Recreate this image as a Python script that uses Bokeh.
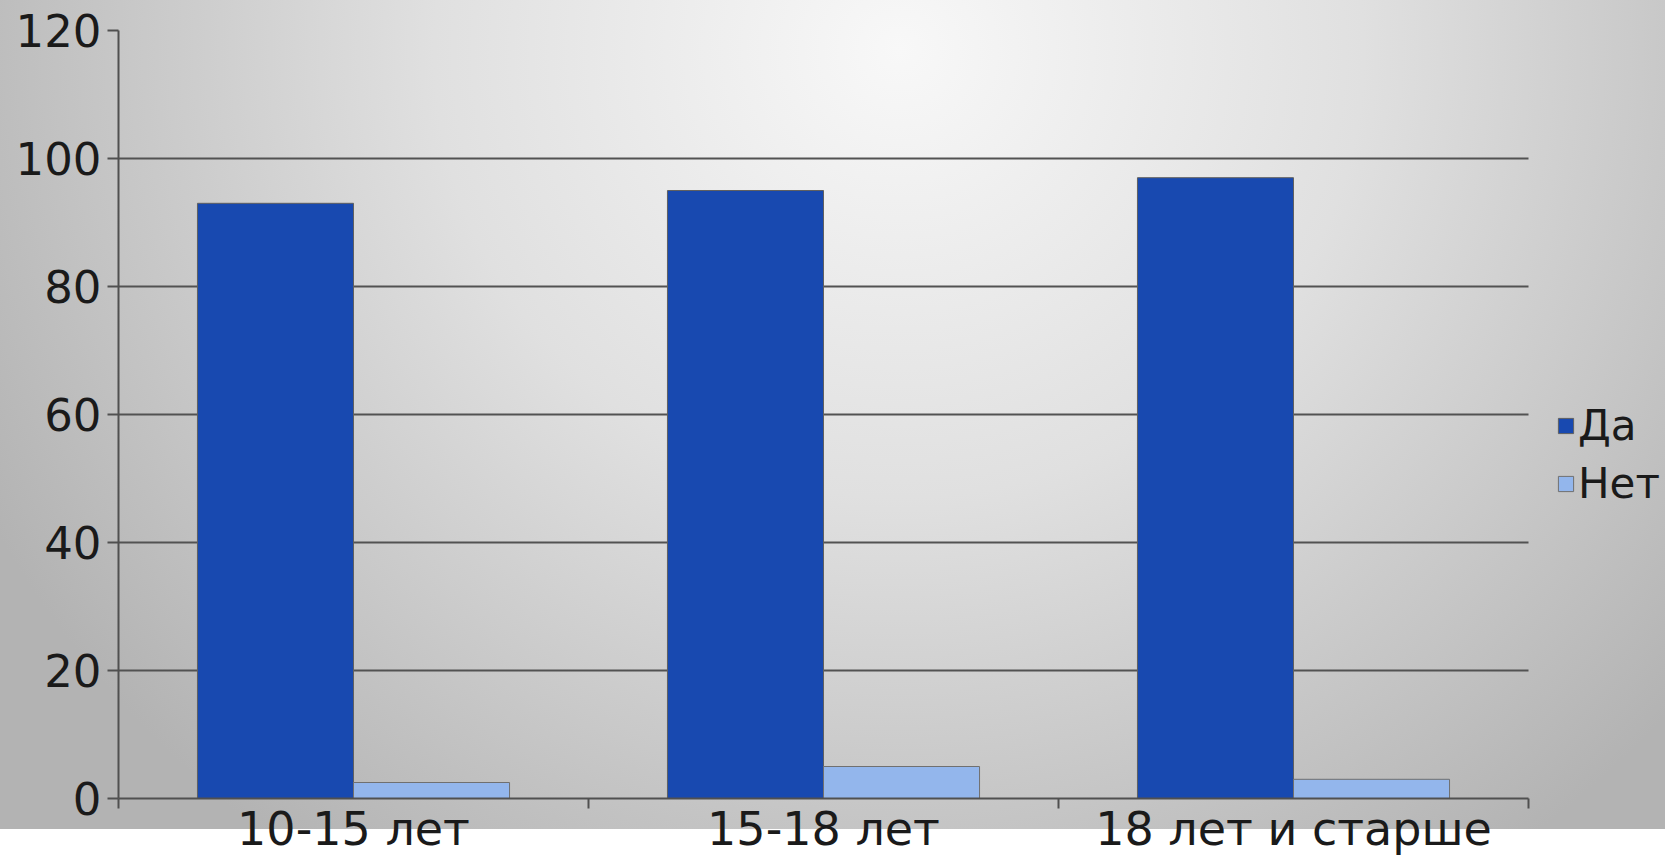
from bokeh.plotting import figure
from bokeh.models import FixedTicker, Legend, LegendItem, ColumnDataSource, Range1d
from bokeh.embed import file_html
from bokeh.resources import INLINE

categories = ["10-15 лет", "15-18 лет", "18 лет и старше"]
series_names = ["Да", "Нет"]
da_values = [93, 95, 97]
net_values = [2.5, 5, 3]
y_ticks = [0, 20, 40, 60, 80, 100, 120]

colors = ["#1849b0", "#93b6ec"]
BAR_W = 0.332

n = len(categories)
centers = [i + 0.5 for i in range(n)]
src_da = ColumnDataSource(dict(x=[c - BAR_W / 2 for c in centers], top=da_values))
src_net = ColumnDataSource(dict(x=[c + BAR_W / 2 for c in centers], top=net_values))

# frame spans from the left border to the figure's right edge; the category axis covers part of it
FRAME_W = 1547
AXIS_W = 1410
x_end = n * FRAME_W / AXIS_W

p = figure(width=1665, height=859, output_backend="svg", toolbar_location=None,
           x_range=Range1d(0, x_end), y_range=Range1d(0, 120),
           min_border_left=118, min_border_top=30, min_border_bottom=61, min_border_right=0)
p.border_fill_alpha = 0
p.background_fill_alpha = 0
p.outline_line_color = None
p.styles = {"background": "radial-gradient(ellipse 62% 120% at 54% 6%, #f8f8f8 0%, #e0e0e0 45%, #b3b3b3 100%) 0 0 / 100% 829px no-repeat, #ffffff"}

font = "DejaVu Sans"
grid_color = "#525252"

p.xgrid.visible = False
p.ygrid.ticker = FixedTicker(ticks=y_ticks)
p.ygrid.grid_line_color = grid_color
p.ygrid.grid_line_width = 2
try:
    p.ygrid.cross_bounds = (0, n)
except Exception:
    p.ygrid.visible = False
    p.segment(x0=0, x1=n, y0=y_ticks, y1=y_ticks, line_color=grid_color, line_width=2)

r1 = p.vbar(x="x", top="top", width=BAR_W, bottom=0, source=src_da,
            fill_color=colors[0], line_color="#606060", line_width=1)
r2 = p.vbar(x="x", top="top", width=BAR_W, bottom=0, source=src_net,
            fill_color=colors[1], line_color="#707070", line_width=1)

ax = p.xaxis[0]
ax.bounds = (0, n)
ax.ticker = FixedTicker(ticks=centers, minor_ticks=list(range(n + 1)))
ax.major_label_overrides = {c: lab for c, lab in zip(centers, categories)}
ax.major_tick_out = 0
ax.major_tick_in = 0
ax.minor_tick_out = 10
ax.minor_tick_in = 0
ax.minor_tick_line_color = "#505050"
ax.minor_tick_line_width = 2
ax.axis_line_color = "#505050"
ax.axis_line_width = 2
ax.major_label_text_font = font
ax.major_label_text_font_size = "46px"
ax.major_label_text_color = "#1a1a1a"
ax.major_label_standoff = -7

ay = p.yaxis[0]
ay.ticker = FixedTicker(ticks=y_ticks)
ay.major_tick_out = 11
ay.major_tick_in = 0
ay.minor_tick_out = 0
ay.minor_tick_in = 0
ay.major_tick_line_color = "#505050"
ay.major_tick_line_width = 2
ay.axis_line_color = "#505050"
ay.axis_line_width = 2
ay.major_label_text_font = font
ay.major_label_text_font_size = "45px"
ay.major_label_text_color = "#1a1a1a"
ay.major_label_standoff = 6

legend = Legend(items=[LegendItem(label=series_names[0], renderers=[r1]),
                       LegendItem(label=series_names[1], renderers=[r2])],
                location=(1438, 290), orientation="vertical")
legend.background_fill_alpha = 0
legend.border_line_color = None
legend.label_text_font = font
legend.label_text_font_size = "42px"
legend.label_text_color = "#1a1a1a"
legend.glyph_width = 19
legend.glyph_height = 19
legend.label_standoff = 3
legend.padding = 0
legend.spacing = 9
legend.margin = 0
p.add_layout(legend, "center")

open("out.html", "w").write(file_html(p, INLINE))
